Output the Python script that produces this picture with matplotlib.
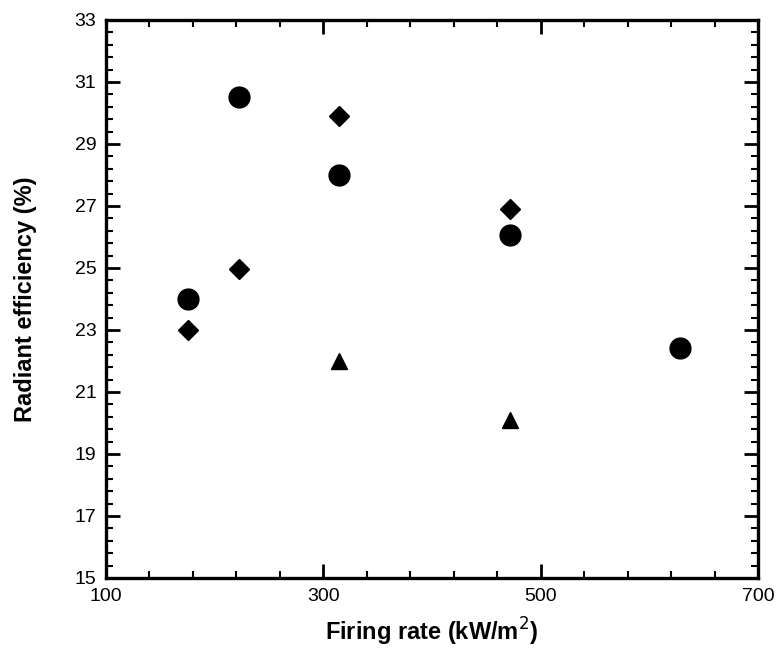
import matplotlib.pyplot as plt
import numpy as np

plt.rcParams['font.family'] = ['Liberation Sans', 'DejaVu Sans']

# круги
circle_x = [175, 222, 314, 472, 628]
circle_y = [24.0, 30.5, 28.0, 26.05, 22.43]
# ромбы
diamond_x = [175, 222, 314, 472]
diamond_y = [23.0, 24.96, 29.9, 26.9]
# треугольники
triangle_x = [314, 472]
triangle_y = [22.0, 20.1]

x_ticks = [100, 300, 500, 700]
y_ticks = [15, 17, 19, 21, 23, 25, 27, 29, 31, 33]

fig = plt.figure(figsize=(7.76, 6.49), dpi=100)
ax = fig.add_axes([0.1366, 0.1094, 0.8402, 0.8598])

ax.plot(circle_x, circle_y, 'o', color='black', markersize=15, linestyle='none')
ax.plot(diamond_x, diamond_y, 'D', color='black', markersize=10.5, linestyle='none')
ax.plot(triangle_x, triangle_y, '^', color='black', markersize=11.5, linestyle='none')

ax.set_xlim(100, 700)
ax.set_ylim(15, 33)
ax.set_xticks(x_ticks)
ax.set_yticks(y_ticks)
ax.set_xticks(np.arange(100, 701, 40), minor=True)
ax.set_yticks(np.arange(15, 33.01, 0.4), minor=True)

ax.tick_params(which='both', direction='in', top=True, right=True, labelsize=14, colors='black')
ax.tick_params(which='major', length=10, width=2, pad=7)
ax.tick_params(which='minor', length=5, width=1.5)
for sp in ax.spines.values():
    sp.set_linewidth(2.4)

ax.set_xlabel('Firing rate (kW/m$^2$)', fontsize=17, fontweight='bold')
ax.set_ylabel('Radiant efficiency (%)', fontsize=17, fontweight='bold')
ax.xaxis.set_label_coords(0.5, -0.068)
ax.yaxis.set_label_coords(-0.106, 0.5)

plt.savefig('out.png', dpi=100)
